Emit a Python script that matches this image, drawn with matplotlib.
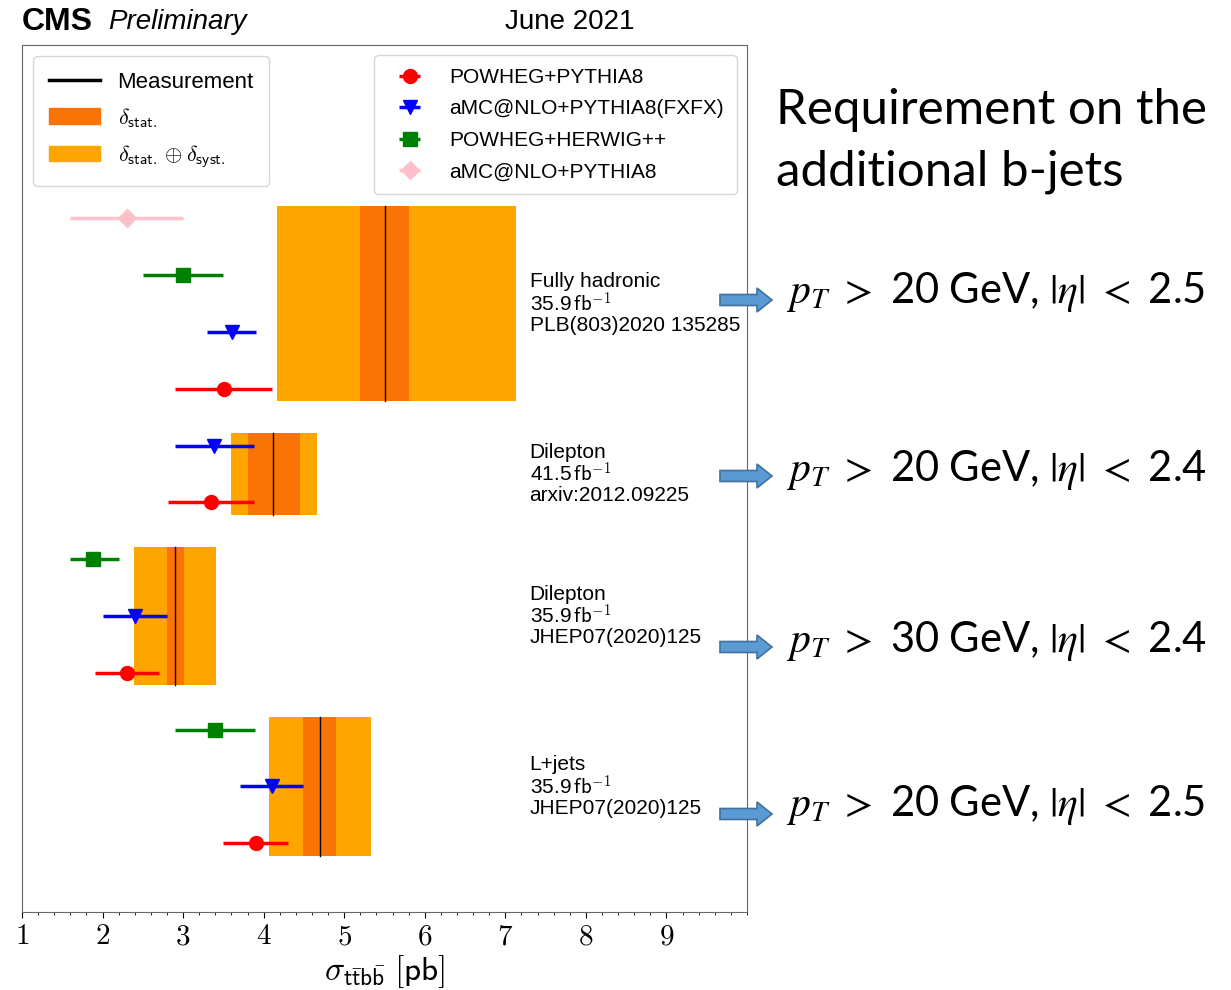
import numpy as np
import matplotlib
matplotlib.use('Agg')
import matplotlib.pyplot as plt
from matplotlib.lines import Line2D
from matplotlib.patches import Patch, FancyArrow, Rectangle

plt.rcParams['font.family'] = ['Liberation Sans', 'DejaVu Sans']
plt.rcParams['mathtext.fontset'] = 'cm'

# measurements, listed bottom -> top
channels = ['L+jets', 'Dilepton', 'Dilepton', 'Fully hadronic']
lumis = ['35.9', '35.9', '41.5', '35.9']
refs = ['JHEP07(2020)125', 'JHEP07(2020)125', 'arxiv:2012.09225', 'PLB(803)2020 135285']
meas = [4.70, 2.90, 4.12, 5.50]
stat_lo = [4.49, 2.80, 3.80, 5.19]
stat_hi = [4.90, 3.01, 4.45, 5.80]
tot_lo = [4.06, 2.39, 3.59, 4.16]
tot_hi = [5.33, 3.41, 4.66, 7.13]

# predictions (nan = not shown for that measurement)
gen_names = ['POWHEG+PYTHIA8', 'aMC@NLO+PYTHIA8(FXFX)', 'POWHEG+HERWIG++', 'aMC@NLO+PYTHIA8']
pred_val = [
    [3.90, 2.30, 3.34, 3.51],
    [4.10, 2.40, 3.38, 3.61],
    [3.40, 1.88, np.nan, 3.00],
    [np.nan, np.nan, np.nan, 2.30],
]
pred_lo = [
    [3.50, 1.91, 2.81, 2.90],
    [3.70, 2.00, 2.90, 3.30],
    [2.90, 1.60, np.nan, 2.50],
    [np.nan, np.nan, np.nan, 1.60],
]
pred_hi = [
    [4.30, 2.70, 3.88, 4.10],
    [4.49, 2.80, 3.88, 3.90],
    [3.89, 2.20, np.nan, 3.49],
    [np.nan, np.nan, np.nan, 3.00],
]
gen_colors = ['red', 'blue', 'green', 'pink']
gen_markers = ['o', 'v', 's', 'D']

# cut requirements on the right
cuts = [r'$p_T$ $>$ 20 GeV, $|\eta|$ $<$ 2.5',
        r'$p_T$ $>$ 20 GeV, $|\eta|$ $<$ 2.4',
        r'$p_T$ $>$ 30 GeV, $|\eta|$ $<$ 2.4',
        r'$p_T$ $>$ 20 GeV, $|\eta|$ $<$ 2.5']

c_stat = '#f97306'
c_tot = '#ffa500'

fig = plt.figure(figsize=(12.31, 9.9), dpi=100)
ax = fig.add_axes([22 / 1231, 78 / 990, 725 / 1231, 867 / 990])

# y positions
base = 0
handles = {}
for i in range(len(meas)):
    n = 0
    for g in range(len(gen_names)):
        v = pred_val[g][i]
        if np.isnan(v):
            continue
        y = base + n
        eb = ax.errorbar(v, y, xerr=[[v - pred_lo[g][i]], [pred_hi[g][i] - v]],
                         fmt=gen_markers[g], color=gen_colors[g], ms=10 if g != 3 else 9,
                         elinewidth=2.5, capsize=0, zorder=3)
        handles[g] = eb
        n += 1
    y0, y1 = base - 0.22, base + n - 1 + 0.22
    ax.add_patch(Rectangle((tot_lo[i], y0), tot_hi[i] - tot_lo[i], y1 - y0, color=c_tot, lw=0, zorder=1))
    ax.add_patch(Rectangle((stat_lo[i], y0), stat_hi[i] - stat_lo[i], y1 - y0, color=c_stat, lw=0, zorder=1))
    ax.plot([meas[i], meas[i]], [y0, y1], color='black', lw=1, zorder=2)
    ax.text(7.3, base + (n - 1) / 2, channels[i] + '\n' + lumis[i] + r'$\,\mathsf{fb}^{-1}$' + '\n' + refs[i],
            fontsize=15, va='center', ha='left', linespacing=1.0)
    base += n

ax.set_xlim(1, 10)
ax.set_ylim(-1.21, 14.05)
ax.set_yticks([])
ax.set_xticks(range(1, 10))
ax.set_xticklabels([r'$%d$' % k for k in range(1, 10)], fontsize=21)
ax.set_xticks(np.arange(1, 10.01, 0.2), minor=True)
ax.tick_params(axis='x', which='major', length=4, direction='out')
ax.tick_params(axis='x', which='minor', length=2, direction='out')
for s in ax.spines.values():
    s.set_color('0.4')
ax.set_xlabel(r'$\sigma_{\mathsf{t\bar{t}b\bar{b}}}\;[\mathsf{pb}]$', fontsize=24, labelpad=2)

leg1 = ax.legend([Line2D([], [], color='black', lw=2.5),
                  Patch(color=c_stat), Patch(color=c_tot)],
                 ['Measurement', r'$\delta_{\mathsf{stat.}}$',
                  r'$\delta_{\mathsf{stat.}} \oplus \delta_{\mathsf{syst.}}$'],
                 loc='upper left', fontsize=16, handlelength=2.3, borderpad=0.7, labelspacing=0.6)
ax.add_artist(leg1)
ax.legend([handles[g] for g in range(4)], gen_names, loc='upper right', fontsize=15,
          handlelength=2.2, borderpad=0.6, labelspacing=0.6)

# overlay in pixel units for header, arrows and notes
ov = fig.add_axes([0, 0, 1, 1], zorder=5)
ov.set_xlim(0, 1231)
ov.set_ylim(990, 0)
ov.axis('off')

ov.text(22, 22, 'CMS', fontsize=23, fontweight='bold', va='center', ha='left')
ov.text(108, 22, 'Preliminary', fontsize=20, fontstyle='italic', va='center', ha='left')
ov.text(570, 22, 'June 2021', fontsize=20, va='center', ha='center')

ov.text(776, 110, 'Requirement on the', fontsize=35.5, family='Lato', va='center', ha='left')
ov.text(776, 172, 'additional b-jets', fontsize=35.5, family='Lato', va='center', ha='left')

arrow_y = [814, 647, 476, 300]
text_y = [805, 641, 470, 292]
for k in range(4):
    ov.add_patch(FancyArrow(720, arrow_y[k], 52, 0, width=11, head_width=24, head_length=15,
                            length_includes_head=True, facecolor='#5b9bd5', edgecolor='#41719c', lw=1.2))
    ov.text(786, text_y[k], cuts[3 - k], fontsize=30, family='Lato', math_fontfamily='stix',
            va='center', ha='left')

fig.savefig('out.png', dpi=100)
